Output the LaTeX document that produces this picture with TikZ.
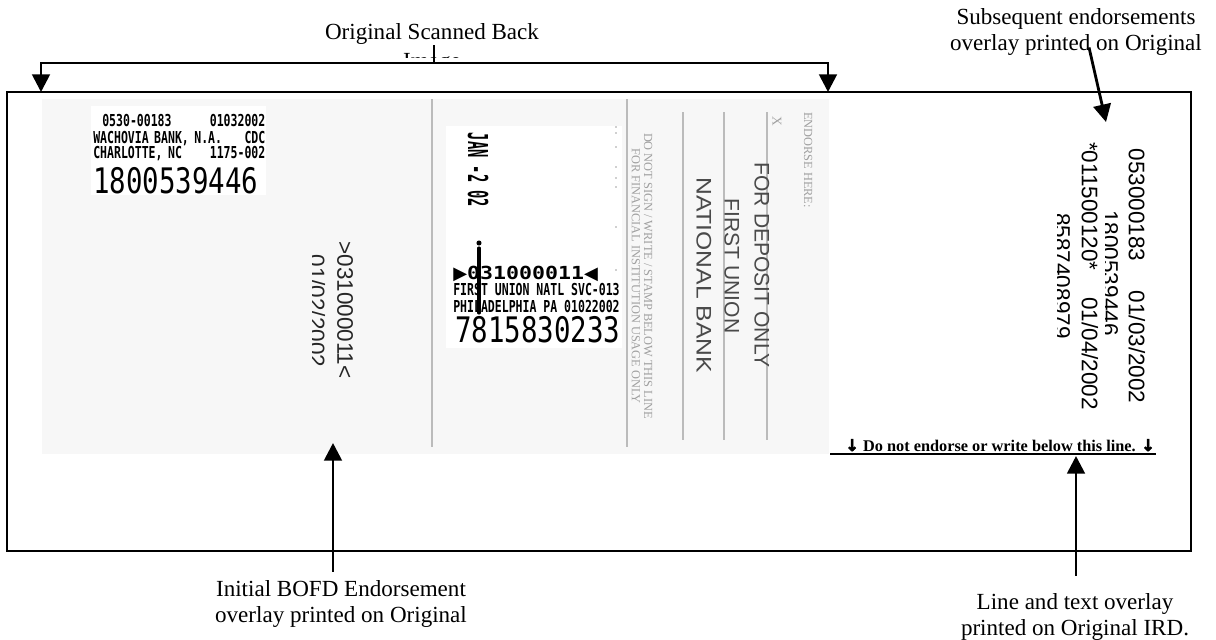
\documentclass[tikz,border=0pt]{standalone}
\usepackage{fontspec}
\setmainfont{Liberation Serif}
\setsansfont{Liberation Sans}
\newfontfamily\dotfont[FakeStretch=0.7]{DejaVu Sans Mono}
\newfontfamily\dotbigfont[FakeStretch=0.78]{DejaVu Sans Mono}
\newfontfamily\datefont[FakeStretch=0.5]{DejaVu Sans Mono}
\newfontfamily\micrfont[FakeStretch=1.2]{DejaVu Sans Mono}
\newfontfamily\symfont{DejaVu Sans}
\newfontfamily\arrowfont[FakeBold=3]{DejaVu Sans}
\usetikzlibrary{arrows.meta,positioning,calc}
\definecolor{scangray}{HTML}{F7F7F7}
\definecolor{rulegray}{HTML}{BBBBBB}
\definecolor{printgray}{HTML}{A0A0A0}
\definecolor{stampgray}{HTML}{4A4A4A}

\begin{document}
\begin{tikzpicture}[x=0.025cm,y=-0.025cm,
  lbl/.style={font=\fontsize{16.4}{18}\selectfont,align=center,inner sep=0pt},
  pointer/.style={line width=2pt,-{Triangle[length=12.5pt,width=12.5pt]}},
  rot/.style={rotate=-90,inner sep=0pt,anchor=center},
  numtext/.style={rot,font=\sffamily\fontsize{16}{16}\selectfont},
  bankline/.style={rot,font=\sffamily\fontsize{15}{15}\selectfont,text=stampgray},
  formline/.style={rot,font=\fontsize{8.8}{8.8}\selectfont,text=printgray},
  stampline/.style={anchor=base west,inner sep=0pt,align=left,
    font=\dotfont\bfseries\fontsize{11.7}{12}\selectfont},
  stampbig/.style={anchor=base west,inner sep=0pt,
    font=\dotbigfont\fontsize{25}{25}\selectfont}]
  \useasboundingbox (0,0) rectangle (1216,639);

  % ---- 外枠と走査画像の領域 ----
  \draw[line width=0.9pt] (7,92) rectangle (1191,551);
  \fill[scangray] (42,99) rectangle (829,454);
  % 区切り線（灰色）
  \draw[rulegray,line width=0.8pt] (432,99) -- (432,447) (627,99) -- (627,447);
  % 裏書欄の署名線
  \foreach \x in {683,724,767} {
    \draw[rulegray,line width=0.8pt] (\x,112) -- (\x,440);
  }

  % ---- 裏書欄の印刷文字 ----
  \node[formline] (endorsehere) at (808,160) {ENDORSE HERE:};
  \node[formline,font=\fontsize{9.5}{9.5}\selectfont] (xmark) at (777,121) {X};
  \node[bankline] (deposit) at (762,265) {FOR DEPOSIT ONLY};
  \node[bankline] (firstunion) at (732,266) {FIRST UNION};
  \node[bankline] (natbank) at (704,275) {\scalebox{1.17}[1]{NATIONAL BANK}};
  \node[formline] (donotsign) at (648,276) {DO NOT SIGN / WRITE / STAMP BELOW THIS LINE};
  \node[formline] (finusage) at (636,276) {FOR FINANCIAL INSTITUTION USAGE ONLY};

  % ---- スタンプ1（左上） ----
  \fill[white] (91,106) rectangle (266,195);
  \node[stampline,text width=4.3cm] (stampA) at (93,126) {\hspace*{6.4pt}0530-00183\hfill 01032002};
  \node[stampline,text width=4.3cm] (stampB) at (93,143) {WACHOVIA BANK, N.A.\hfill CDC};
  \node[stampline,text width=4.3cm] (stampC) at (93,158) {CHARLOTTE, NC\hfill 1175-002};
  \node[stampbig] (stampD) at (93,193) {1800539446};

  % ---- スタンプ2（中央） ----
  \fill[white] (446,126) rectangle (622,348);
  \node[rot,font=\datefont\bfseries\fontsize{19.5}{19.5}\selectfont] (jandate) at (478,170) {JAN -2 02};
  \foreach \y in {127,133,147,167,178,187,227,270} {
    \fill[printgray] (616,\y) circle (0.7pt);
  }
  \node[anchor=base west,inner sep=0pt,font=\micrfont\bfseries\fontsize{12.8}{13}\selectfont]
    (micr) at (453,279) {{\symfont ▶}031000011{\symfont ◀}};
  \node[stampline] (stampE) at (453,295) {FIRST UNION NATL SVC-013};
  \node[stampline] (stampF) at (453,312) {PHILADELPHIA PA 01022002};
  \node[stampbig] (stampG) at (455,342) {7815830233};
  % ペンの跡
  \draw[line width=2.2pt,line cap=round] (479,248) -- (479,313);
  \fill (479,243) circle (1.8pt);

  % ---- 最初のBOFD裏書 ----
  \node[numtext,text=black!85] (routeA) at (345,310) {>031000011<};
  \begin{scope}
    \clip (312,200) rectangle (340,420);
    \node[numtext,text=black!85] (routeB) at (317,311) {01/02/2002};
  \end{scope}

  % ---- 後続の裏書 ----
  \node[numtext] (endA) at (1137,276) {053000183\hspace{21pt}01/03/2002};
  \begin{scope}
    \clip (1105,150) rectangle (1125,420);
    \node[numtext] (endB) at (1110,273) {1800539446};
  \end{scope}
  \node[numtext] (endC) at (1090,276) {*011500120*\hspace{19pt}01/04/2002};
  \begin{scope}
    \clip (1057,150) rectangle (1080,420);
    \node[numtext] (endD) at (1062,276) {8587408979};
  \end{scope}

  % ---- IRDの線と文字 ----
  \node[anchor=base west,inner sep=0pt,font=\bfseries\fontsize{11.6}{12}\selectfont]
    (noendorse) at (845,451) {{\arrowfont ↓} Do not endorse or write below this line. {\arrowfont ↓}};
  \draw[line width=0.9pt] (830,454) -- (1156,454);

  % ---- 上部の見出しと括弧 ----
  \node[lbl] (title) at (432,34) {Original Scanned Back};
  \begin{scope}
    \clip (380,44) rectangle (490,57);
    \node[lbl,anchor=base] (titleB) at (432,68) {Image};
  \end{scope}
  \draw[line width=1.6pt] (434,45) -- (434,63);
  \coordinate (scanL) at (41,92);
  \coordinate (scanR) at (828,92);
  \draw[pointer] (434,63) -| (scanL);
  \draw[pointer] (434,63) -| (scanR);

  % ---- 説明ラベルと矢印 ----
  \node[lbl] (subs) at (1076,32) {Subsequent endorsements\\overlay printed on Original};
  \coordinate (substip) at (1106,122);
  \draw[pointer] ($(subs.south)+(13,-8)$) -- (substip);

  \node[lbl] (bofd) at (341,604) {Initial BOFD Endorsement\\overlay printed on Original};
  \coordinate (bofdtip) at (333,443);
  \draw[pointer] ($(bofd.north -| bofdtip)+(0,-9)$) -- (bofdtip);

  \node[lbl] (ird) at (1075,617) {Line and text overlay\\printed on Original IRD.};
  \coordinate (irdtip) at (1076,456);
  \draw[pointer] ($(ird.north -| irdtip)+(0,-18)$) -- (irdtip);
\end{tikzpicture}
\end{document}
